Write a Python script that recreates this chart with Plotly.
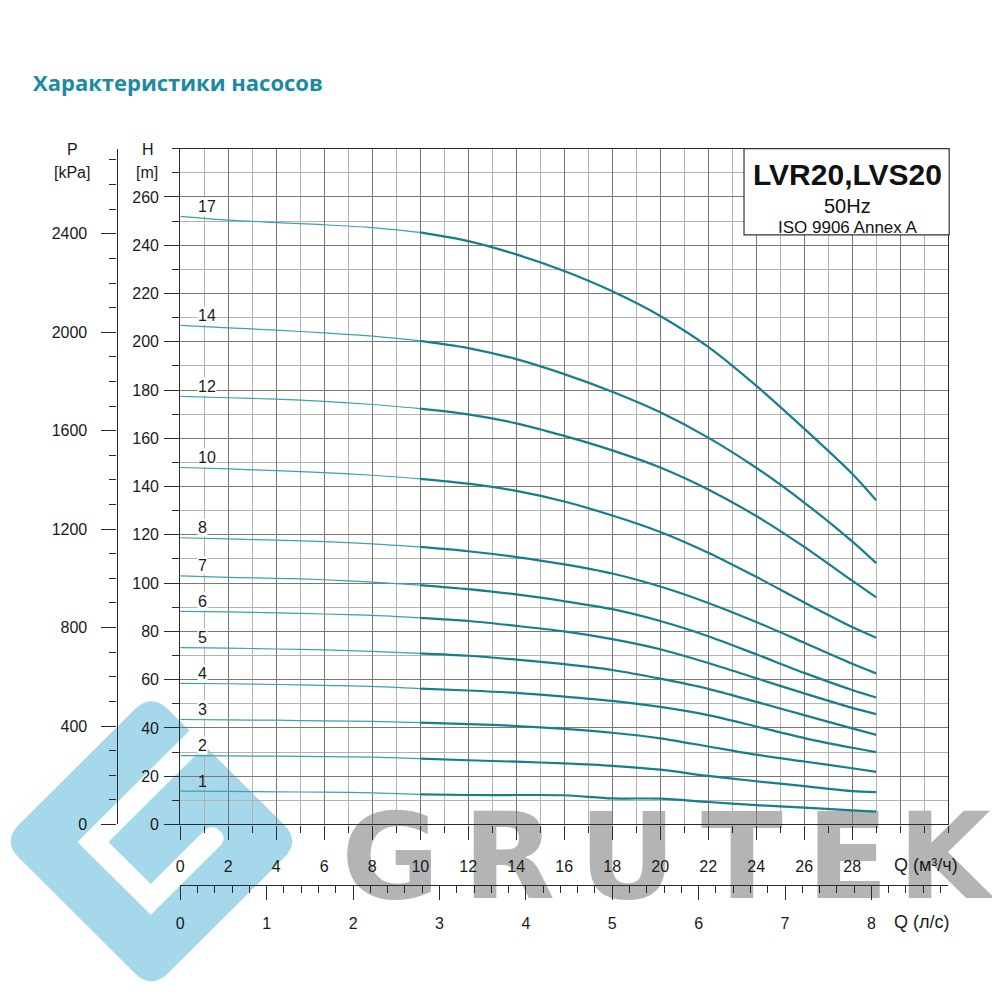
import numpy as np
import plotly.graph_objects as go

# ---------------- data ----------------
Q = [0, 2, 4, 6, 8, 10, 12, 14, 16, 18, 20, 22, 24, 26, 28, 29]   # m3/h

H17 = [252.0, 250.4, 249.4, 248.5, 247.3, 245.3, 241.7, 236.2, 229.3, 220.9, 210.7, 197.9, 181.8, 164.0, 145.3, 134.3]
H14 = [206.8, 205.8, 204.8, 203.7, 202.3, 200.4, 197.4, 192.8, 186.6, 179.3, 170.8, 160.3, 147.8, 133.4, 117.3, 108.3]
H12 = [177.4, 176.8, 176.2, 175.3, 174.0, 172.3, 169.9, 166.2, 161.0, 155.0, 147.9, 138.8, 127.8, 115.0, 101.0, 94.1]
H10 = [147.9, 147.3, 146.6, 145.8, 144.7, 143.2, 141.2, 138.2, 133.8, 128.0, 121.2, 112.6, 102.6, 92.0, 81.8, 77.4]
H8 = [118.8, 118.3, 117.8, 117.2, 116.3, 115.0, 113.2, 110.8, 107.8, 104.0, 98.6, 91.8, 83.9, 75.3, 66.6, 62.6]
H7 = [103.0, 102.4, 102.0, 101.4, 100.4, 99.2, 97.5, 95.3, 92.5, 89.2, 84.3, 78.0, 70.5, 62.8, 55.7, 52.6]
H6 = [88.3, 88.1, 87.7, 87.2, 86.6, 85.6, 84.3, 82.3, 80.0, 76.8, 72.6, 66.9, 60.6, 54.3, 48.3, 45.7]
H5 = [73.3, 73.1, 72.7, 72.3, 71.7, 70.9, 69.9, 68.3, 66.4, 64.0, 60.4, 56.2, 50.8, 45.3, 39.8, 37.1]
H4 = [58.5, 58.3, 58.0, 57.6, 57.2, 56.3, 55.5, 54.5, 53.0, 51.2, 48.7, 45.3, 40.6, 35.8, 31.8, 30.0]
H3 = [43.5, 43.3, 43.2, 42.9, 42.7, 42.2, 41.6, 40.8, 39.6, 38.0, 35.7, 32.3, 28.9, 26.1, 23.3, 21.8]
H2 = [28.5, 28.4, 28.3, 28.1, 27.9, 27.3, 26.6, 26.0, 25.3, 24.3, 22.7, 20.1, 17.9, 15.9, 13.8, 13.4]
H1 = [13.8, 13.7, 13.5, 13.4, 13.1, 12.5, 12.2, 12.2, 12.1, 10.8, 10.7, 9.3, 8.0, 7.0, 5.8, 5.3]

STAGES = ["1", "2", "3", "4", "5", "6", "7", "8", "10", "12", "14", "17"]
CURVES = [H1, H2, H3, H4, H5, H6, H7, H8, H10, H12, H14, H17]

X_TICKS = [0, 2, 4, 6, 8, 10, 12, 14, 16, 18, 20, 22, 24, 26, 28, 30, 32]
X_TICKTEXT = ["0", "2", "4", "6", "8", "10", "12", "14", "16", "18", "20", "22", "24", "26", "28", "", ""]
H_TICKS = [0, 20, 40, 60, 80, 100, 120, 140, 160, 180, 200, 220, 240, 260, 280]
H_TICKTEXT = ["0", "20", "40", "60", "80", "100", "120", "140", "160", "180", "200", "220", "240", "260", ""]
P_TICKS = [0, 400, 800, 1200, 1600, 2000, 2400]
LS_TICKS = [0, 1, 2, 3, 4, 5, 6, 7, 8]

TITLE = "Характеристики насосов"
BOX_LINES = ["LVR20,LVS20", "50Hz", "ISO 9906 Annex A"]
WATERMARK = "GRUTEK"

Q_MAX = 32
H_MAX = 280
KPA_PER_M = 9.80665
M3H_PER_LS = 3.6
SPLIT = 5  # index of Q=10 where the curve stroke thickens

# ---------------- page geometry (body has an 8px default margin) ----------------
OFF = 8
SIZE = 984


def fx(px):
    return (px - OFF) / SIZE


def fy(py):
    return 1 - (py - OFF) / SIZE


# ---------------- styles ----------------
FONT = "Liberation Sans, Arial, sans-serif"
TEAL_THIN = "#3aa3ab"
TEAL = "#157f8b"
GRID_MAJOR = "#777777"
GRID_MINOR = "#b3b3b3"
AX = "#2a2a2a"
LOGO_BLUE = "#a6d8eb"
WM_GRAY = "#b4b4b4"

fig = go.Figure()

for name, H in zip(STAGES, CURVES):
    fig.add_trace(go.Scatter(x=Q[:SPLIT + 1], y=H[:SPLIT + 1], mode="lines",
                             line=dict(color=TEAL_THIN, width=1.2, shape="spline", smoothing=0.8),
                             hoverinfo="skip", showlegend=False, name=name))
    fig.add_trace(go.Scatter(x=Q[SPLIT:], y=H[SPLIT:], mode="lines",
                             line=dict(color=TEAL, width=2.2, shape="spline", smoothing=0.8),
                             showlegend=False, name=name))

# empty traces so that the secondary scales (l/s and kPa) are drawn
fig.add_trace(go.Scatter(x=[], y=[], xaxis="x2", yaxis="y", showlegend=False, hoverinfo="skip"))
fig.add_trace(go.Scatter(x=[], y=[], xaxis="x", yaxis="y2", showlegend=False, hoverinfo="skip"))

tickfont = dict(family=FONT, size=16, color="#1a1a1a")

fig.update_layout(
    width=SIZE, height=SIZE, autosize=False,
    margin=dict(l=0, r=0, t=0, b=0),
    paper_bgcolor="white", plot_bgcolor="white",
    showlegend=False,
    xaxis=dict(
        domain=[fx(177), fx(948)], range=[0, Q_MAX], anchor="y",
        tickmode="array", tickvals=X_TICKS, ticktext=X_TICKTEXT,
        ticks="outside", ticklen=14, tickwidth=1, tickcolor=AX,
        ticklabelstandoff=13,
        showline=True, linecolor=AX, linewidth=1.3, mirror=True,
        showgrid=True, gridcolor=GRID_MAJOR, gridwidth=1.2, zeroline=False,
        minor=dict(tickmode="array", tickvals=list(range(0, Q_MAX + 1)), ticks="outside",
                   ticklen=7, tickcolor=AX, showgrid=True, gridcolor=GRID_MINOR, gridwidth=1),
        tickfont=tickfont,
    ),
    yaxis=dict(
        domain=[fy(832), fy(150)], range=[0, H_MAX], anchor="x",
        tickmode="array", tickvals=H_TICKS, ticktext=H_TICKTEXT,
        ticks="outside", ticklen=15, tickwidth=1, tickcolor=AX,
        ticklabelstandoff=2,
        showline=True, linecolor=AX, linewidth=1.3, mirror=True,
        showgrid=True, gridcolor=GRID_MAJOR, gridwidth=1.2, zeroline=False,
        minor=dict(tickmode="array", tickvals=list(range(0, H_MAX + 1, 10)), ticks="outside",
                   ticklen=7, tickcolor=AX, showgrid=True, gridcolor=GRID_MINOR, gridwidth=1),
        tickfont=tickfont,
    ),
    xaxis2=dict(
        overlaying="x", anchor="free", position=fy(893), side="bottom",
        range=[0, Q_MAX / M3H_PER_LS],
        tickmode="array", tickvals=LS_TICKS,
        ticks="outside", ticklen=14, tickwidth=1, tickcolor=AX,
        ticklabelstandoff=10,
        showline=True, linecolor=AX, linewidth=1.3,
        showgrid=False, zeroline=False,
        minor=dict(tickmode="array", tickvals=[round(i * 0.2, 1) for i in range(45)], ticks="outside",
                   ticklen=7, tickcolor=AX, showgrid=False),
        tickfont=tickfont,
    ),
    yaxis2=dict(
        overlaying="y", anchor="free", position=fx(113), side="left",
        range=[0, H_MAX * KPA_PER_M],
        tickmode="array", tickvals=P_TICKS,
        ticks="outside", ticklen=15, tickwidth=1, tickcolor=AX,
        ticklabelstandoff=11,
        showline=True, linecolor=AX, linewidth=1.3,
        showgrid=False, zeroline=False,
        minor=dict(tickmode="array", tickvals=list(range(0, 2701, 100)), ticks="outside",
                   ticklen=7, tickcolor=AX, showgrid=False),
        tickfont=tickfont,
    ),
)

# ---------------- watermark logo (below the grid) ----------------
LOGO_C = (148, 849)


def uv(u, v):
    s = 1 / np.sqrt(2)
    px = LOGO_C[0] + (u + v) * s
    py = LOGO_C[1] + (u - v) * s
    return f"{fx(px):.4f},{fy(py):.4f}"


a, r = 106, 24
outer = (f"M {uv(-a + r, a)} L {uv(a - r, a)} Q {uv(a, a)} {uv(a, a - r)} "
         f"L {uv(a, -a + r)} Q {uv(a, -a)} {uv(a - r, -a)} "
         f"L {uv(-a + r, -a)} Q {uv(-a, -a)} {uv(-a, -a + r)} "
         f"L {uv(-a, a - r)} Q {uv(-a, a)} {uv(-a + r, a)} Z")
stripe = (f"M {uv(-52, 128)} L {uv(-52, -53)} L {uv(52, -53)} L {uv(52, 45)} "
          f"Q {uv(52, 56)} {uv(41, 56)} Q {uv(30, 56)} {uv(30, 45)} "
          f"L {uv(30, -31)} L {uv(-30, -31)} L {uv(-30, 128)} Z")

shapes = [
    dict(type="path", xref="paper", yref="paper", path=outer, fillcolor=LOGO_BLUE,
         line=dict(width=0), layer="below"),
    dict(type="path", xref="paper", yref="paper", path=stripe, fillcolor="white",
         line=dict(width=0), layer="below"),
]

letter_cx = [388, 507, 626, 741, 847, 944]
for ch, cx in zip(WATERMARK, letter_cx):
    shapes.append(dict(
        type="rect", xref="paper", yref="paper",
        x0=fx(cx - 50), x1=fx(cx + 50), y0=fy(905), y1=fy(805),
        line=dict(width=0), fillcolor="rgba(0,0,0,0)", layer="below",
        label=dict(text=ch, textposition="middle center",
                   font=dict(family="DejaVu Sans", size=120, color=WM_GRAY, weight="bold")),
    ))

# model box
shapes.append(dict(type="rect", xref="paper", yref="paper", x0=fx(743), x1=fx(949),
                   y0=fy(237), y1=fy(150), fillcolor="white",
                   line=dict(color="#333333", width=1.2), layer="above"))
fig.update_layout(shapes=shapes)

# ---------------- annotations ----------------
ann = []
ann.append(dict(text=f"<b>{TITLE}</b>", x=fx(27), y=fy(83), xref="paper", yref="paper",
                xanchor="left", yanchor="middle", showarrow=False,
                font=dict(family="Open Sans", size=22, color="#1b8aa3")))

box_specs = [(BOX_LINES[0], 176, 30, True), (BOX_LINES[1], 208, 20, False), (BOX_LINES[2], 230, 17, False)]
for txt, yy, sz, bold in box_specs:
    ann.append(dict(text=f"<b>{txt}</b>" if bold else txt, x=fx(847), y=fy(yy),
                    xref="paper", yref="paper", xanchor="center", yanchor="middle",
                    showarrow=False, font=dict(family=FONT, size=sz, color="#111111")))

axis_titles = [("P", 69, 151, 16), ("[kPa]", 68, 174, 16), ("H", 145, 151, 16), ("[m]", 144, 174, 16),
               ("Q (м³/ч)", 926, 873, 18), ("Q (л/с)", 922, 930, 18)]
for txt, xx, yy, sz in axis_titles:
    ann.append(dict(text=txt, x=fx(xx), y=fy(yy), xref="paper", yref="paper",
                    xanchor="center", yanchor="middle", showarrow=False,
                    font=dict(family=FONT, size=sz, color="#1a1a1a")))

for name, H in zip(STAGES, CURVES):
    ann.append(dict(text=name, x=0.7, y=H[0], xref="x", yref="y",
                    xanchor="left", yanchor="middle", yshift=10, showarrow=False,
                    bgcolor=None if name == "1" else "white", borderpad=0,
                    font=dict(family=FONT, size=16, color="#1a1a1a")))

fig.update_layout(annotations=ann)

fig.write_html("out.html")
